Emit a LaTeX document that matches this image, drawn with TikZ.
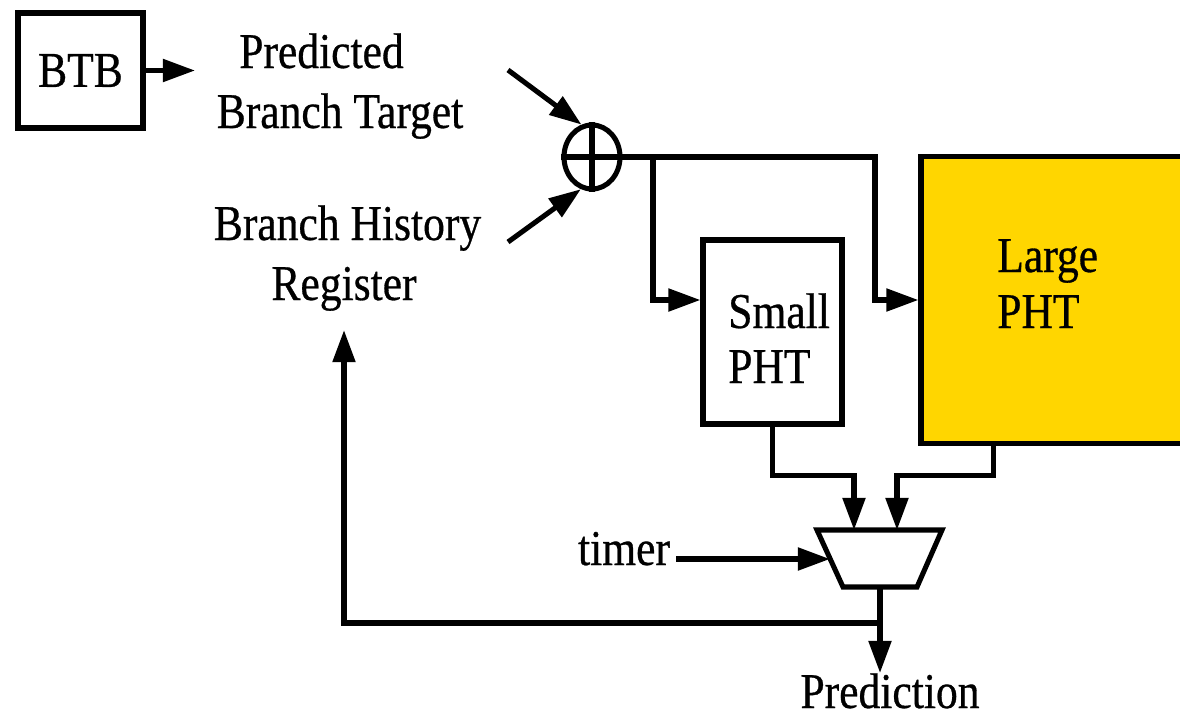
\documentclass[tikz,border=0pt]{standalone}
\usepackage{fontspec}
\setmainfont{Liberation Serif}[FakeStretch=0.87,FakeBold=0.6]
\usetikzlibrary{arrows.meta,shapes.geometric}
\definecolor{phtgold}{HTML}{FFD600}
\begin{document}
\begin{tikzpicture}[x=0.025cm,y=-0.025cm,
  font=\fontsize{35.6}{40}\selectfont,
  wire/.style={line width=3.6pt},
  arr/.style={wire,-{Triangle[length=0.8cm,width=0.55cm]}},
  lbl/.style={inner sep=0pt},
  box/.style={draw,line width=3.6pt,inner sep=0pt}]
\useasboundingbox (0,0) rectangle (1180,718);

% branch target buffer and the two index sources
\node[box,minimum width=3.125cm,minimum height=2.875cm] (btb) at (80.5,70.5) {BTB};
\coordinate (btbout) at (195,70.5);
\draw[arr] (btb.east) -- (btbout);

\node[lbl,anchor=base] (pbt1) at (321.5,68) {Predicted};
\node[lbl,anchor=base] (pbt2) at (340,128) {Branch Target};
\node[lbl,anchor=base] (bhr1) at (347.5,240) {Branch History};
\node[lbl,anchor=base] (bhr2) at (344,300) {Register};

% xor combining target and history
\node[draw,ellipse,line width=3.6pt,inner sep=0pt,
      minimum width=1.4cm,minimum height=1.6cm] (add) at (592,157) {};
\draw[wire] (add.north) -- (add.south) (add.west) -- (add.east);
\coordinate (pin) at (508,70);
\coordinate (hin) at (508,242);
\draw[arr] (pin) -- (add.108);
\draw[arr] (hin) -- (add.251);

% pattern history tables
\node[box,minimum width=3.475cm,minimum height=4.6cm] (small) at (772.5,332) {};
\node[lbl,anchor=base west] (sm1) at (728,328) {Small};
\node[lbl,anchor=base west] (sm2) at (728,383) {PHT};

\begin{scope}
  \clip (0,0) rectangle (1180,718);
  \node[box,fill=phtgold,minimum width=7cm,minimum height=7.15cm] (large) at (1061,300) {};
\end{scope}
\node[lbl,anchor=base west] (lg1) at (997,272) {Large};
\node[lbl,anchor=base west] (lg2) at (997,328) {PHT};

% index distribution
\coordinate (split) at (653,157);
\draw[arr] (add.east) -- (875,157) |- (large.west);
\draw[arr] (split) |- (small.west |- large.west);

% selector
\draw[wire] (817,530) coordinate (mtl) -- (942,530) coordinate (mtr)
  -- (917,587) coordinate (mbr) -- (843,587) coordinate (mbl) -- cycle;
\coordinate (min1) at (854,530);
\coordinate (min2) at (897,530);
\coordinate (msel) at (830,559);
\coordinate (mout) at (880,587);

\draw[arr] (small.south) -- ++(0,49) -| (min1);
\draw[arr] ([xshift=1.875cm]large.south west) -- ++(0,30) -| (min2);

\node[lbl,anchor=base] (timer) at (624,565) {timer};
\coordinate (tmout) at ([xshift=0.15cm]timer.east);
\draw[arr] (tmout |- msel) -- (msel);

% prediction output and history feedback
\node[lbl,anchor=base] (pred) at (890,708) {Prediction};
\coordinate (fb) at (880,623);
\draw[arr] (mout) -- (mout |- pred.north);
\draw[arr] (fb) -| ([yshift=-0.475cm]bhr2.south);
\end{tikzpicture}
\end{document}
